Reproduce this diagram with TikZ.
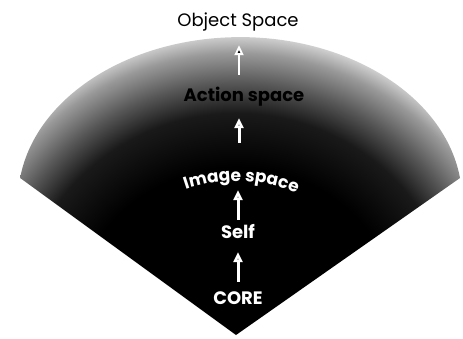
\documentclass[tikz,border=0pt]{standalone}
\usepackage{fontspec}
\newfontfamily\fanfont{Poppins}
\usetikzlibrary{arrows.meta,positioning,decorations.text}
\colorlet{fanDark}{black!90}
\colorlet{fanMid}{black!66}
\colorlet{fanLight}{black!40}
\colorlet{fanEdge}{black!10}
\pgfdeclareradialshading{fanShade}{\pgfpoint{0bp}{0bp}}{color(0bp)=(black); color(14bp)=(black); color(18.5bp)=(fanDark); color(21bp)=(fanMid); color(23.5bp)=(fanLight); color(25.5bp)=(fanEdge); color(50bp)=(fanEdge)}
\newcommand\imgfont{\fanfont\bfseries\fontsize{17}{17}\selectfont}

\begin{document}
\begin{tikzpicture}[x=1pt,y=1pt,
  lbl/.style={inner sep=0pt, text height=13pt, text depth=0pt, font=\fanfont\fontsize{18}{18}\selectfont},
  up/.style={draw=white, line width=3pt, -{Triangle[width=9pt,length=10pt]}}]
  \useasboundingbox (0,0) rectangle (463,338);
  % the fan
  \coordinate (apex) at (236,3);
  \begin{scope}
    \clip (apex) -- (460,160) arc[start angle=7.8, end angle=172.2, x radius=222, y radius=163] -- cycle;
    \shade[shading=fanShade] (apex) circle (300);
  \end{scope}

  % labels
  \node[lbl, text=white, font=\fanfont\bfseries\fontsize{18}{18}\selectfont] (core) at (238,40) {CORE};
  \node[lbl, text=white, font=\fanfont\bfseries\fontsize{18}{18}\selectfont] (self) at (238,106) {Self};
  \node[lbl] (image) at (239,162) {};
  \path[decorate, decoration={text along path, text align=center, text color=white,
      text={|\imgfont|Image space}}]
    ([shift={(115.5:154)}]apex) arc[start angle=115.5, end angle=60.5, radius=154];
  \node[lbl, font=\fanfont\bfseries\fontsize{18}{18}\selectfont] (action) at (244,243) {Action space};
  \node[lbl] (object) at (238,318) {Object Space};

  % arrows
  \draw[up, shorten <=9.5pt, shorten >=13.5pt] (core.north) -- (core |- self.south);
  \draw[up, shorten <=5.5pt, shorten >=7.5pt] (self.north) -- (self |- image.south);
  \draw[up, shorten <=26.5pt, shorten >=16.5pt] (image.north) -- (image |- action.south);
  \draw[up, line width=2pt, shorten <=13.5pt, shorten >=18.5pt] (action.north -| image) -- (image |- object.south);
\end{tikzpicture}
\end{document}
